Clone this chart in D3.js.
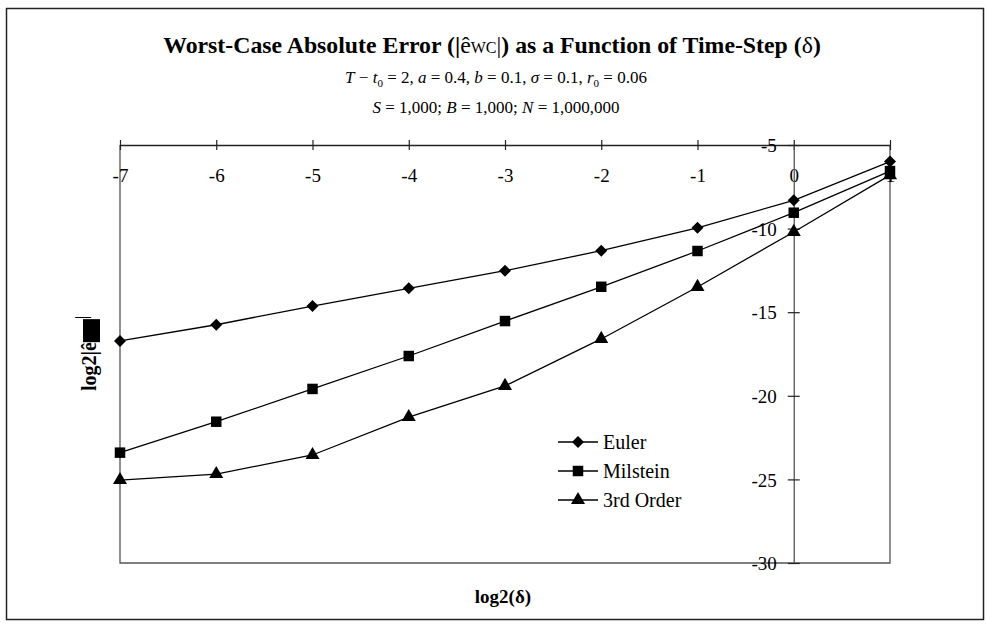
<!DOCTYPE html>
<html>
<head>
<meta charset="utf-8">
<script src="https://cdn.jsdelivr.net/npm/d3@7"></script>
<style>
  body { margin: 0; background: #fff; }
</style>
</head>
<body>
<svg width="987" height="624" font-family="Liberation Serif"></svg>
<script>
// log2 of time step
var steps = [-7, -6, -5, -4, -3, -2, -1, 0, 1];
// log2 of worst-case absolute error
var euler = [-16.72, -15.75, -14.63, -13.57, -12.52, -11.32, -9.95, -8.31, -5.99];
var milstein = [-23.40, -21.55, -19.59, -17.62, -15.53, -13.48, -11.34, -9.05, -6.56];
var thirdOrder = [-25.04, -24.68, -23.54, -21.27, -19.41, -16.60, -13.49, -10.20, -6.8];
var yTicks = [-5, -10, -15, -20, -25, -30];
var seriesNames = ["Euler", "Milstein", "3rd Order"];

var FONT = "Liberation Serif";
var svg = d3.select("svg");

// outer frame
svg.append("rect")
  .attr("x", 6.5).attr("y", 8.5)
  .attr("width", 977).attr("height", 611)
  .attr("fill", "none").attr("stroke", "#222").attr("stroke-width", 1.5);

var x = d3.scaleLinear().domain([-7, 1]).range([120, 890]);
var y = d3.scaleLinear().domain([-5, -30]).range([145, 563]);

// plot frame (left, right, bottom)
svg.append("path")
  .attr("d", "M" + x(-7) + "," + y(-5) + "V" + y(-30) + "H" + x(1) + "V" + y(-5))
  .attr("fill", "none").attr("stroke", "#555").attr("stroke-width", 1.3);

// x axis along the top (y = -5), labels below the line
var xAxis = d3.axisBottom(x).tickValues(steps).tickSize(0).tickPadding(0)
  .tickFormat(function (d) { return String(d); });
var gx = svg.append("g").attr("transform", "translate(0," + y(-5) + ")").call(xAxis);
gx.attr("font-family", FONT);
gx.select(".domain").attr("stroke", "#222").attr("stroke-width", 1.3);
gx.selectAll(".tick line").remove();
gx.selectAll(".tick").append("line")
  .attr("y1", -5).attr("y2", 5).attr("stroke", "#222").attr("stroke-width", 1.2);
gx.selectAll(".tick text")
  .attr("y", 37).attr("dy", null)
  .attr("font-family", FONT).attr("font-size", 19).attr("fill", "#000");

// y axis at x = 0
var yAxis = d3.axisLeft(y).tickValues(yTicks).tickSize(0).tickPadding(0)
  .tickFormat(function (d) { return String(d); });
var gy = svg.append("g").attr("transform", "translate(" + x(0) + ",0)").call(yAxis);
gy.attr("font-family", FONT);
gy.select(".domain").attr("stroke", "#555").attr("stroke-width", 1.3);
gy.selectAll(".tick line").remove();
gy.selectAll(".tick").append("line")
  .attr("x1", -6).attr("x2", 6).attr("stroke", "#222").attr("stroke-width", 1.2);
gy.selectAll(".tick text")
  .attr("x", -17).attr("dy", "0.35em")
  .attr("font-family", FONT).attr("font-size", 19).attr("fill", "#000");

// series
var data = [euler, milstein, thirdOrder];
var symbols = [d3.symbolSquare, d3.symbolSquare, d3.symbolTriangle];
var sizes = [72, 110, 85];
var rotations = [45, 0, 0];

var line = d3.line()
  .x(function (d, i) { return x(steps[i]); })
  .y(function (d) { return y(d); });

data.forEach(function (vals, k) {
  svg.append("path")
    .attr("d", line(vals))
    .attr("fill", "none").attr("stroke", "#000").attr("stroke-width", 1.3);
});

data.forEach(function (vals, k) {
  svg.append("g").selectAll("path")
    .data(vals)
    .enter()
    .append("path")
    .attr("d", d3.symbol().type(symbols[k]).size(sizes[k]))
    .attr("transform", function (d, i) {
      return "translate(" + x(steps[i]) + "," + y(d) + ") rotate(" + rotations[k] + ")";
    })
    .attr("fill", "#000");
});

// legend
var legend = svg.append("g").attr("transform", "translate(558,442)");
seriesNames.forEach(function (name, k) {
  var row = legend.append("g").attr("transform", "translate(0," + k * 29 + ")");
  row.append("line").attr("x1", 0).attr("x2", 40).attr("stroke", "#000").attr("stroke-width", 1.3);
  row.append("path")
    .attr("d", d3.symbol().type(symbols[k]).size(sizes[k]))
    .attr("transform", "translate(20,0) rotate(" + rotations[k] + ")");
  row.append("text").attr("x", 45).attr("dy", "0.35em")
    .attr("font-family", FONT).attr("font-size", 20).text(name);
});

// titles
var title = svg.append("text").attr("x", 492).attr("y", 53)
  .attr("text-anchor", "middle").attr("font-family", FONT)
  .attr("font-size", 22).attr("font-weight", "bold");
title.append("tspan").text("Worst-Case Absolute Error (|");
title.append("tspan").attr("font-weight", "normal").text("ê");
title.append("tspan").attr("font-weight", "normal").attr("font-size", 16).text("WC");
title.append("tspan").attr("font-weight", "normal").text("|");
title.append("tspan").text(") as a Function of Time-Step (");
title.append("tspan").attr("font-weight", "normal").text("δ");
title.append("tspan").text(")");
// fit the title to the width it has in the picture
var tl = title.node().getComputedTextLength();
title.attr("font-size", 22 * 660 / tl);

var sub1 = svg.append("text").attr("x", 496).attr("y", 83)
  .attr("text-anchor", "middle").attr("font-family", FONT).attr("font-size", 17);
sub1.append("tspan").attr("font-style", "italic").text("T");
sub1.append("tspan").text(" − ");
sub1.append("tspan").attr("font-style", "italic").text("t");
sub1.append("tspan").attr("font-size", 11).attr("dy", 4).text("0");
sub1.append("tspan").attr("dy", -4).text(" = 2,  ");
sub1.append("tspan").attr("font-style", "italic").text("a");
sub1.append("tspan").text(" = 0.4,  ");
sub1.append("tspan").attr("font-style", "italic").text("b");
sub1.append("tspan").text(" = 0.1,  ");
sub1.append("tspan").attr("font-style", "italic").text("σ");
sub1.append("tspan").text(" = 0.1,  ");
sub1.append("tspan").attr("font-style", "italic").text("r");
sub1.append("tspan").attr("font-size", 11).attr("dy", 4).text("0");
sub1.append("tspan").attr("dy", -4).text(" = 0.06");

var sub2 = svg.append("text").attr("x", 496).attr("y", 113)
  .attr("text-anchor", "middle").attr("font-family", FONT).attr("font-size", 17);
sub2.append("tspan").attr("font-style", "italic").text("S");
sub2.append("tspan").text(" = 1,000;  ");
sub2.append("tspan").attr("font-style", "italic").text("B");
sub2.append("tspan").text(" = 1,000;  ");
sub2.append("tspan").attr("font-style", "italic").text("N");
sub2.append("tspan").text(" = 1,000,000");

// axis titles
svg.append("text").attr("x", 503).attr("y", 603)
  .attr("text-anchor", "middle").attr("font-family", FONT)
  .attr("font-size", 19).attr("font-weight", "bold")
  .text("log2(δ)");

var yl = svg.append("g").attr("transform", "translate(96,391) rotate(-90)");
var ylText = yl.append("text").attr("x", 0).attr("y", 0)
  .attr("font-family", FONT).attr("font-size", 20).attr("font-weight", "bold").text("log2|ê");
var tw = ylText.node().getComputedTextLength();
yl.append("rect").attr("x", tw).attr("y", -13).attr("width", 23).attr("height", 17).attr("fill", "#000");
yl.append("text").attr("x", tw + 23).attr("y", -9)
  .attr("font-family", FONT).attr("font-size", 16).attr("font-weight", "bold").text("|");
</script>
</body>
</html>
